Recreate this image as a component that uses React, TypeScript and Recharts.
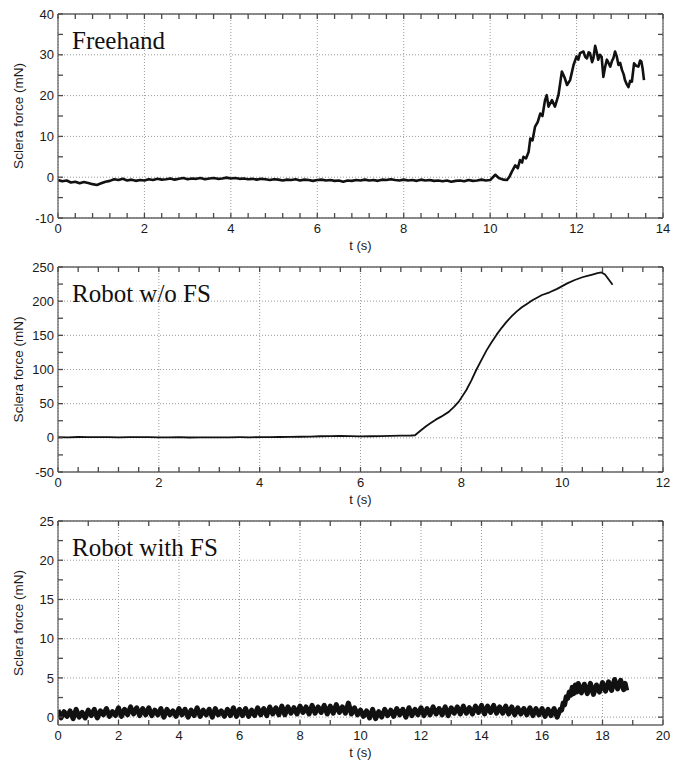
import React from 'react'
import { CartesianGrid, Line, LineChart, XAxis, YAxis } from 'recharts'

// Freehand: flat part, one value every 0.1 s from 0 to 10 s
const freehandStep = 0.1
const freehandFlat = [
  -0.7, -1.0, -0.8, -1.3, -1.1, -1.5, -1.2, -1.4, -1.7, -1.9,
  -1.5, -1.1, -0.9, -0.5, -0.7, -0.4, -0.8, -0.6, -0.9, -0.7,
  -0.8, -0.5, -0.7, -0.4, -0.6, -0.5, -0.3, -0.6, -0.4, -0.2,
  -0.5, -0.3, -0.4, -0.2, -0.5, -0.3, -0.2, -0.4, -0.3, -0.1,
  -0.3, -0.2, -0.4, -0.3, -0.5, -0.4, -0.6, -0.4, -0.5, -0.7,
  -0.5, -0.6, -0.8, -0.6, -0.7, -0.5, -0.8, -0.6, -0.7, -0.9,
  -0.7, -0.6, -0.8, -0.7, -0.9, -0.8, -1.1, -0.8, -0.9, -0.7,
  -0.8, -0.6, -0.8, -0.7, -0.9, -0.6, -0.7, -0.5, -0.7, -0.8,
  -0.6, -0.8, -0.7, -0.9, -0.6, -0.8, -0.7, -0.9, -0.8, -1.0,
  -0.8, -1.1, -0.9, -0.8, -1.0, -0.7, -0.9, -0.8, -0.6, -0.8,
  -0.7,
]
// Freehand: the rise after 10 s
const freehandRiseT = [
  10.12, 10.2, 10.3, 10.39, 10.45, 10.5, 10.58, 10.64, 10.69, 10.74, 10.77, 10.83, 10.89, 10.93, 10.98,
  11.04, 11.1, 11.16, 11.21, 11.27, 11.31, 11.35, 11.43, 11.5, 11.58, 11.62, 11.66, 11.72, 11.78, 11.85, 11.93,
  12.0, 12.04, 12.08, 12.16, 12.2, 12.24, 12.28, 12.31, 12.36, 12.39, 12.43, 12.47, 12.5, 12.54, 12.58, 12.62,
  12.66, 12.7, 12.74, 12.78, 12.82, 12.85, 12.89, 12.93, 12.97, 13.01, 13.05, 13.09, 13.12, 13.16, 13.2,
  13.24, 13.28, 13.33, 13.38, 13.43, 13.47, 13.5, 13.53, 13.56,
]
const freehandRiseF = [
  0.6, -0.2, -0.6, -0.7, 0.2, 1.3, 2.9, 2.2, 4.2, 3.6, 5.0, 4.6, 6.2, 9.5, 9.0,
  12.4, 13.5, 15.6, 15.0, 18.9, 20.1, 17.3, 18.9, 17.3, 20.1, 23.0, 25.9, 24.5, 22.6, 23.8, 27.5,
  29.6, 28.8, 30.4, 30.8, 29.5, 29.1, 30.6, 30.4, 28.2, 29.2, 32.2, 30.5, 28.8, 30.0, 29.5, 24.6,
  27.0, 28.8, 28.0, 27.1, 28.5, 29.1, 30.8, 29.6, 27.5, 28.0, 26.3, 25.2, 23.8, 22.8, 22.1,
  23.6, 23.4, 27.9, 27.3, 27.1, 28.6, 28.3, 26.5, 23.8,
]

// Robot w/o FS: flat part every 0.2 s from 0 to 7 s
const noFsStep = 0.2
const noFsFlat = [
  1.0, 0.8, 1.2, 0.9, 1.1, 1.0, 0.7, 1.0, 0.9, 1.1,
  0.8, 0.6, 0.9, 0.5, 0.7, 0.6, 0.8, 0.7, 0.9, 0.8,
  1.0, 0.9, 1.2, 1.4, 1.6, 1.9, 2.3, 2.6, 2.8, 2.4,
  2.0, 2.3, 2.6, 2.8, 3.1, 3.4,
]
const noFsRiseT = [
  7.08, 7.2, 7.3, 7.4, 7.5, 7.6, 7.75, 7.85, 7.95, 8.1, 8.2, 8.3, 8.4, 8.5, 8.6, 8.7, 8.8, 8.9,
  9.0, 9.1, 9.2, 9.3, 9.4, 9.5, 9.6, 9.75, 9.9, 10.0, 10.1, 10.25, 10.4, 10.5, 10.6, 10.7, 10.78,
  10.85, 10.92, 11.0,
]
const noFsRiseF = [
  3.8, 11, 17, 22, 27, 31, 38, 45, 53, 70, 84, 100, 114, 128, 140, 151, 161, 170,
  178, 185, 191, 196, 201, 205, 209, 213, 218, 222, 226, 231, 235, 237, 239, 241, 242,
  239, 232, 224,
]

// Robot with FS: noisy band every 0.1 s from 0 to 16.6 s
const withFsStep = 0.1
const withFsFlat = [
  0.9, -0.1, 0.7, 0.1, 0.8, -0.2, 1.0, 0.0, 0.6, -0.1,
  0.9, 0.2, 1.0, -0.1, 0.8, 0.3, 1.1, 0.1, 0.7, 0.2,
  1.2, 0.1, 1.0, 0.3, 1.3, 0.4, 1.2, 0.2, 1.1, 0.3,
  1.2, 0.2, 0.9, 0.3, 1.1, 0.0, 1.0, 0.3, 0.8, 0.1,
  1.1, 0.3, 1.0, 0.0, 0.9, 0.2, 1.2, 0.1, 0.9, 0.3,
  1.0, 0.0, 1.1, 0.3, 0.8, 0.1, 1.0, 0.2, 1.2, 0.1,
  1.0, 0.2, 1.1, 0.1, 0.9, 0.2, 1.2, 0.3, 1.1, 0.2,
  1.3, 0.4, 1.2, 0.3, 1.4, 0.3, 1.3, 0.5, 1.2, 0.4,
  1.4, 0.6, 1.3, 0.4, 1.5, 0.5, 1.3, 0.6, 1.5, 0.4,
  1.4, 0.5, 1.6, 0.6, 1.3, 0.5, 1.8, 0.4, 1.2, 0.3,
  0.9, 0.1, 0.8, -0.1, 1.0, -0.2, 0.7, 0.0, 1.0, 0.2,
  0.9, 0.1, 1.1, 0.3, 1.0, 0.0, 1.2, 0.2, 1.0, 0.3,
  1.2, 0.2, 1.1, 0.3, 1.3, 0.4, 1.1, 0.3, 1.3, 0.2,
  1.2, 0.5, 1.3, 0.4, 1.4, 0.5, 1.2, 0.4, 1.4, 0.6,
  1.5, 0.4, 1.4, 0.6, 1.5, 0.5, 1.3, 0.5, 1.4, 0.4,
  1.3, 0.3, 1.2, 0.4, 1.1, 0.3, 1.2, 0.2, 1.1, 0.3,
  1.1, 0.1, 1.0, 0.2, 1.1, 0.0, 1.0,
]
const withFsRiseT = [
  16.65, 16.7, 16.75, 16.8, 16.85, 16.9, 16.95, 17.0, 17.05, 17.1, 17.15, 17.2, 17.3, 17.4, 17.5,
  17.6, 17.7, 17.8, 17.9, 18.0, 18.1, 18.2, 18.3, 18.4, 18.5, 18.6, 18.7, 18.75, 18.8,
]
const withFsRiseF = [
  0.9, 1.8, 1.6, 2.6, 2.4, 3.2, 2.8, 3.8, 3.0, 4.1, 3.2, 4.3, 3.1, 4.2, 3.0,
  4.3, 2.9, 4.1, 3.2, 4.4, 3.3, 4.5, 3.4, 4.8, 3.6, 4.7, 3.5, 4.3, 3.4,
]

type Pt = { t: number; f: number }

function buildSeries(step: number, flat: number[], riseT: number[], riseF: number[]): Pt[] {
  const a = flat.map((f, i) => ({ t: +(i * step).toFixed(2), f }))
  const b = riseT.map((t, i) => ({ t, f: riseF[i] }))
  return a.concat(b)
}

function tickRange(min: number, max: number, step: number) {
  const out: number[] = []
  const n = Math.round((max - min) / step)
  for (let i = 0; i <= n; i++) out.push(+(min + i * step).toFixed(3))
  return out
}

const font = '"Liberation Sans", Arial, sans-serif'
const axisColor = '#666'
const tickColor = '#4a4a4a'
const textColor = '#1a1a1a'
const PLOT_W = 605
const X_MARGIN = 11
const Y_MARGIN = 9
const TICK = 5

type PanelProps = {
  top: number
  plotHeight: number
  title: string
  data: Pt[]
  xMax: number
  xMinor: number
  yMin: number
  yMax: number
  yMajorFrom: number
  yMajor: number
  yMinor: number
  lineWidth: number
}

const isIn = (list: number[], v: number) => list.some((m) => Math.abs(m - v) < 1e-6)

function Panel(p: PanelProps) {
  const height = 13 + 1 + p.plotHeight + 38
  const xMajorTicks = tickRange(0, p.xMax, 2)
  const xAll = tickRange(0, p.xMax, p.xMinor)
  const yMajorTicks = tickRange(p.yMajorFrom, p.yMax, p.yMajor)
  const yAll = tickRange(p.yMajorFrom, p.yMax, p.yMinor)

  // bottom tick label, plus the matching inward tick on the top edge
  const bottomTick = (props: any) => {
    const { x, y, payload } = props
    const plotTop = y - X_MARGIN + TICK - p.plotHeight
    return (
      <g>
        <line x1={x} x2={x} y1={plotTop} y2={plotTop + TICK} stroke={tickColor} strokeWidth={1.3} />
        {isIn(xMajorTicks, payload.value) && (
          <text x={x} y={y} dy="0.71em" textAnchor="middle" fill={textColor} fontSize={13} fontFamily={font}>
            {payload.value}
          </text>
        )}
      </g>
    )
  }

  // left tick label, plus the matching inward tick on the right edge
  const leftTick = (props: any) => {
    const { x, y, payload } = props
    const plotRight = x + Y_MARGIN - TICK + PLOT_W
    return (
      <g>
        <line x1={plotRight - TICK} x2={plotRight} y1={y} y2={y} stroke={tickColor} strokeWidth={1.3} />
        {isIn(yMajorTicks, payload.value) && (
          <text x={x} y={y} dy="0.355em" textAnchor="end" fill={textColor} fontSize={13} fontFamily={font}>
            {payload.value}
          </text>
        )}
      </g>
    )
  }

  return (
    <div style={{ position: 'absolute', left: 0, top: p.top, width: 674, height }}>
      <LineChart width={674} height={height} data={p.data} margin={{ top: 13, right: 10, bottom: 0, left: 0 }}>
        <CartesianGrid
          xAxisId="b"
          yAxisId="l"
          verticalValues={xMajorTicks}
          horizontalValues={yMajorTicks}
          stroke="#9c9c9c"
          strokeDasharray="1 2"
        />
        <XAxis
          xAxisId="b"
          type="number"
          dataKey="t"
          domain={[0, p.xMax]}
          allowDataOverflow
          ticks={xAll}
          interval={0}
          height={38}
          tickSize={-TICK}
          tickMargin={X_MARGIN}
          tick={bottomTick}
          tickLine={{ stroke: tickColor, strokeWidth: 1.3 }}
          stroke={axisColor}
          axisLine={{ strokeWidth: 1.3 }}
          label={{ value: 't (s)', position: 'insideBottom', offset: 6, fill: textColor, fontSize: 13, fontFamily: font }}
        />
        <XAxis
          xAxisId="t"
          orientation="top"
          type="number"
          domain={[0, p.xMax]}
          height={1}
          tick={false}
          tickLine={false}
          stroke={axisColor}
          axisLine={{ strokeWidth: 1.3 }}
        />
        <YAxis
          yAxisId="l"
          type="number"
          domain={[p.yMin, p.yMax]}
          allowDataOverflow
          ticks={yAll}
          interval={0}
          width={58}
          tickSize={-TICK}
          tickMargin={Y_MARGIN}
          tick={leftTick}
          tickLine={{ stroke: tickColor, strokeWidth: 1.3 }}
          stroke={axisColor}
          axisLine={{ strokeWidth: 1.3 }}
          label={{
            value: 'Sclera force (mN)',
            angle: -90,
            position: 'insideLeft',
            offset: 18,
            fill: textColor,
            fontSize: 13.5,
            fontFamily: font,
            style: { textAnchor: 'middle' },
          }}
        />
        <YAxis
          yAxisId="r"
          orientation="right"
          type="number"
          domain={[p.yMin, p.yMax]}
          width={1}
          tick={false}
          tickLine={false}
          stroke={axisColor}
          axisLine={{ strokeWidth: 1.3 }}
        />
        <Line
          xAxisId="b"
          yAxisId="l"
          type="linear"
          dataKey="f"
          stroke="#111"
          strokeWidth={p.lineWidth}
          strokeLinejoin="round"
          dot={false}
          isAnimationActive={false}
        />
      </LineChart>
      <div
        style={{
          position: 'absolute',
          left: 72,
          top: 28,
          fontFamily: '"Liberation Serif", "Times New Roman", serif',
          fontSize: 25,
          lineHeight: 1,
          color: '#111',
          whiteSpace: 'nowrap',
        }}
      >
        {p.title}
      </div>
    </div>
  )
}

export default function App() {
  const freehand = buildSeries(freehandStep, freehandFlat, freehandRiseT, freehandRiseF)
  const noFs = buildSeries(noFsStep, noFsFlat, noFsRiseT, noFsRiseF)
  const withFs = buildSeries(withFsStep, withFsFlat, withFsRiseT, withFsRiseF)

  return (
    <div style={{ position: 'absolute', left: 0, top: 0, width: 674, height: 765, background: '#fff' }}>
      <Panel
        top={0}
        plotHeight={204}
        title="Freehand"
        data={freehand}
        xMax={14}
        xMinor={0.4}
        yMin={-10}
        yMax={40}
        yMajorFrom={-10}
        yMajor={10}
        yMinor={5}
        lineWidth={2.6}
      />
      <Panel
        top={253}
        plotHeight={205}
        title="Robot w/o FS"
        data={noFs}
        xMax={12}
        xMinor={0.4}
        yMin={-50}
        yMax={250}
        yMajorFrom={-50}
        yMajor={50}
        yMinor={25}
        lineWidth={1.8}
      />
      <Panel
        top={507}
        plotHeight={204}
        title="Robot with FS"
        data={withFs}
        xMax={20}
        xMinor={1}
        yMin={-1}
        yMax={25}
        yMajorFrom={0}
        yMajor={5}
        yMinor={2.5}
        lineWidth={5}
      />
    </div>
  )
}
